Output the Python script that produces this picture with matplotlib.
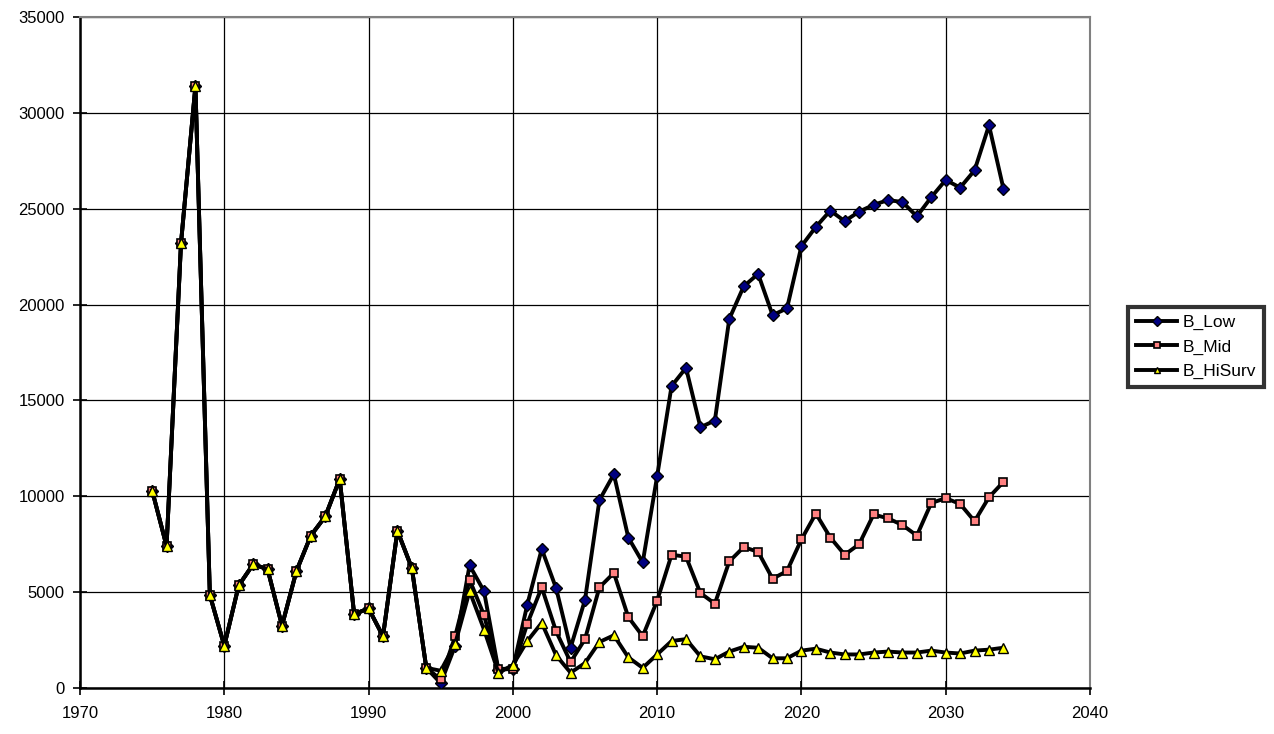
import matplotlib
matplotlib.use("Agg")
import matplotlib.pyplot as plt

plt.rcParams['font.family'] = ['Liberation Sans', 'DejaVu Sans']

years = list(range(1975, 2035))

b_low = [10300, 7400, 23200, 31400, 4850, 2200, 5350, 6450, 6200, 3250,
         6100, 7950, 8950, 10900, 3850, 4150, 2700, 8200, 6250, 1050,
         250, 2200, 6400, 5050, 950, 1000, 4350, 7250, 5200, 2100,
         4600, 9800, 11150, 7850, 6550, 11050, 15750, 16700, 13600, 13950,
         19250, 20950, 21600, 19450, 19800, 23050, 24050, 24900, 24350, 24850,
         25200, 25450, 25350, 24600, 25600, 26500, 26100, 27000, 29350, 26050]

b_mid = [10300, 7400, 23200, 31400, 4850, 2200, 5350, 6450, 6200, 3250,
         6100, 7950, 8950, 10900, 3850, 4150, 2700, 8200, 6250, 1050,
         450, 2700, 5650, 3800, 1000, 1000, 3350, 5250, 2950, 1350,
         2550, 5250, 6000, 3700, 2700, 4550, 6950, 6850, 4950, 4400,
         6600, 7350, 7100, 5700, 6100, 7750, 9100, 7850, 6950, 7500,
         9050, 8850, 8500, 7950, 9650, 9900, 9600, 8700, 9950, 10750]

b_hisurv = [10300, 7400, 23200, 31400, 4850, 2200, 5350, 6450, 6200, 3250,
            6100, 7950, 8950, 10900, 3850, 4150, 2700, 8200, 6250, 1050,
            900, 2300, 5050, 3050, 800, 1200, 2450, 3400, 1700, 800,
            1300, 2400, 2750, 1600, 1050, 1750, 2450, 2550, 1650, 1500,
            1900, 2150, 2100, 1550, 1550, 1950, 2050, 1850, 1750, 1750,
            1850, 1900, 1850, 1850, 1950, 1850, 1800, 1950, 2000, 2100]

series_names = ['B_Low', 'B_Mid', 'B_HiSurv']

fig = plt.figure(figsize=(12.74, 7.34), dpi=100)
ax = fig.add_axes([80/1274, 46/734, (1090-80)/1274, (688-17)/734])

ax.plot(years, b_low, color='black', lw=2.8, marker='D', markersize=6.5,
        markerfacecolor='#000080', markeredgecolor='black', markeredgewidth=1.0,
        label=series_names[0], zorder=3)
ax.plot(years, b_mid, color='black', lw=2.8, marker='s', markersize=6,
        markerfacecolor='#FF8080', markeredgecolor='black', markeredgewidth=1.2,
        label=series_names[1], zorder=4)
ax.plot(years, b_hisurv, color='black', lw=2.8, marker='^', markersize=7,
        markerfacecolor='#FFFF00', markeredgecolor='black', markeredgewidth=1.0,
        label=series_names[2], zorder=5)

ax.set_xlim(1970, 2040)
ax.set_ylim(0, 35000)
ax.set_xticks(range(1970, 2041, 10))
ax.set_yticks(range(0, 35001, 5000))
ax.tick_params(axis='both', labelsize=12, length=10, width=1.2, color='black',
               direction='inout')
ax.tick_params(axis='x', pad=8)
ax.tick_params(axis='y', pad=6)
ax.grid(True, color='black', linewidth=0.9)
ax.set_axisbelow(True)
for s in ['top', 'right']:
    ax.spines[s].set_color('#808080')
    ax.spines[s].set_linewidth(1.5)
for s in ['left', 'bottom']:
    ax.spines[s].set_color('black')
    ax.spines[s].set_linewidth(1.8)

leg = fig.legend(loc='center', bbox_to_anchor=(1196/1274, 1 - 347/734), fontsize=12.5,
                 frameon=True, fancybox=False, handlelength=2.4, handletextpad=0.3,
                 borderpad=0.45, labelspacing=0.55, borderaxespad=0)
leg.get_frame().set_edgecolor('black')
leg.get_frame().set_linewidth(3)
for h in leg.legend_handles:
    h.set_markersize(5)

fig.savefig('out.png', dpi=100)
